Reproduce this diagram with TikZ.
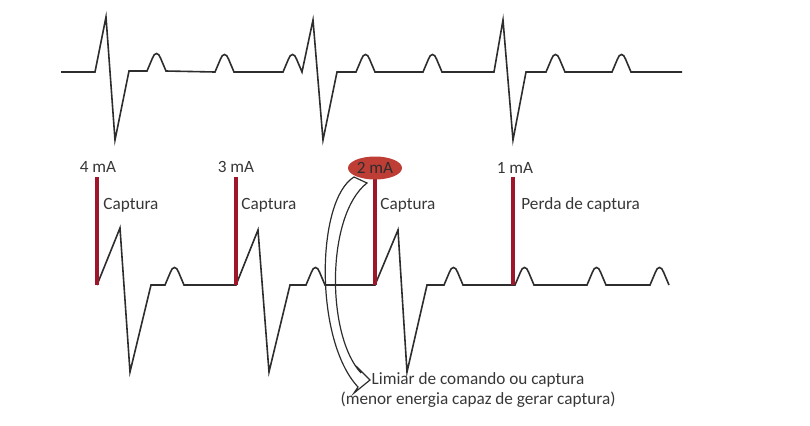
\documentclass[tikz,border=0pt]{standalone}
\usepackage{fontspec}
\setmainfont{Carlito}
\usepackage{xcolor}
\usetikzlibrary{shapes.geometric}
\definecolor{barred}{RGB}{158,22,42}
\definecolor{ellred}{RGB}{190,62,54}
\definecolor{ink}{RGB}{45,45,45}
\definecolor{txt}{RGB}{55,55,55}

% T wave hump on the baseline
\newcommand{\hmp}{-- ++(5.5,-13) .. controls +(2,-6) and +(-2,-6) .. ++(8,0) -- ++(5.5,13)}

\begin{document}
\begin{tikzpicture}[x=0.5pt, y=-0.5pt,
    trace/.style={ink, line width=0.8pt, line join=miter},
    pulse/.style={barred, line width=2pt},
    lbl/.style={txt, font=\fontsize{8.6}{10.4}\selectfont, inner sep=0pt}]
  \useasboundingbox (0,0) rectangle (810,425);

  % ---- top trace: intrinsic rhythm ----
  \draw[trace] (61,72) -- (95,72) -- (106,17) -- (115,140) -- (129,71) -- (147,71) \hmp
    -- (215,72) \hmp -- (283,72) \hmp -- (313,20) -- (323,140) -- (337,72) -- (356,72) \hmp
    -- (423,72) \hmp -- (494,72) -- (503,20) -- (513,140) -- (526,72) -- (546,72) \hmp
    -- (612,72) \hmp -- (682,72);

  % ---- bottom trace: paced beats ----
  \draw[trace] (97,285) -- (120,228) -- (130,372) -- (151,285) -- (165,285) \hmp
    -- (236,285) -- (258,230) -- (269,372) -- (290,285) -- (306,285) \hmp
    -- (375,285) -- (398,230) -- (407,372) -- (427,285) -- (444,285) \hmp
    -- (515,285) \hmp -- (587,285) \hmp -- (650,285) \hmp;

  % ---- pacing spikes ----
  \foreach \x in {97, 236, 375, 513} {
    \draw[pulse] (\x,177) -- (\x,285);
  }

  % ---- labels ----
  \node[lbl] (m4) at (98,167) {4 mA};
  \node[lbl] (m3) at (236,167) {3 mA};
  \node[lbl] (m1) at (515,168) {1 mA};
  \node[lbl, anchor=west] (c4) at (103,205) {Captura};
  \node[lbl, anchor=west] (c3) at (241,205) {Captura};
  \node[lbl, anchor=west] (c2) at (380,205) {Captura};
  \node[lbl, anchor=west] (c1) at (521,205) {Perda de captura};
  \node[lbl, align=center] (lim) at (478,390) {Limiar de comando ou captura\\(menor energia capaz de gerar captura)};

  % ---- threshold arrow ----
  \draw[ink, line width=0.6pt, line join=miter] (354,177) .. controls (316,200) and (314,340) .. (358,387)
    -- (354,393) -- (370,380) -- (356,366) -- (361,373)
    .. controls (326,335) and (326,215) .. (367,183) -- cycle;
  \node[lbl, fill=ellred, ellipse, minimum width=27pt, minimum height=11.5pt, text=ink] (ell) at (375,168) {2 mA};
\end{tikzpicture}
\end{document}
